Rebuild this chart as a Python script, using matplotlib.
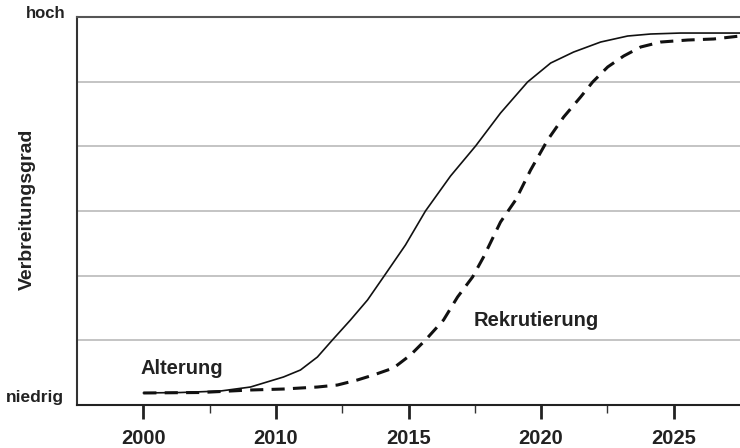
import matplotlib
matplotlib.use("Agg")
import matplotlib.pyplot as plt
from matplotlib.ticker import FixedLocator

plt.rcParams['font.family'] = ['Liberation Sans', 'DejaVu Sans']
plt.rcParams['font.weight'] = 'bold'

# x in Tick-Positionen (0 = 2000, 1 = 2010, 2 = 2015, ...), y in Rasterstufen 0..6
tick_pos = [0, 1, 2, 3, 4]
tick_labels = ["2000", "2010", "2015", "2020", "2025"]

alter_x = [0.0, 0.279, 0.581, 0.808, 1.057, 1.185, 1.313, 1.426, 1.562, 1.691, 1.811,
           1.977, 2.128, 2.317, 2.506, 2.694, 2.898, 3.072, 3.245, 3.449, 3.653, 3.826,
           4.053, 4.279, 4.5]
alter_y = [0.186, 0.193, 0.216, 0.278, 0.433, 0.541, 0.742, 1.005, 1.314, 1.624, 1.979,
           2.474, 3.000, 3.541, 4.005, 4.515, 4.995, 5.288, 5.458, 5.613, 5.706, 5.737,
           5.752, 5.752, 5.752]

rekr_x = [0.0, 0.430, 0.808, 1.057, 1.313, 1.464, 1.615, 1.736, 1.887, 2.015, 2.128,
          2.264, 2.370, 2.483, 2.566, 2.694, 2.808, 2.921, 3.049, 3.170, 3.298, 3.389,
          3.502, 3.623, 3.751, 3.902, 4.106, 4.302, 4.5]
rekr_y = [0.186, 0.193, 0.232, 0.247, 0.278, 0.309, 0.387, 0.464, 0.572, 0.773, 1.005,
          1.314, 1.670, 1.979, 2.289, 2.830, 3.170, 3.634, 4.098, 4.453, 4.763, 4.995,
          5.227, 5.397, 5.536, 5.613, 5.644, 5.660, 5.706]

fig = plt.figure(figsize=(7.4, 4.48), dpi=100)
ax = fig.add_axes([77 / 740, 43 / 448, 663 / 740, 388 / 448])

for g in [1, 2, 3, 4, 5]:
    ax.axhline(g, color='#b4b4b4', lw=1.1, zorder=0)

ax.plot(alter_x, alter_y, color='#111111', lw=1.2, zorder=3,
        solid_joinstyle='round', solid_capstyle='round')
ax.plot(rekr_x, rekr_y, color='#111111', lw=2.2, dashes=(4.3, 2.7), zorder=3,
        dash_joinstyle='round')

ax.set_xlim(-0.5, 4.5)
ax.set_ylim(0, 6)

ax.xaxis.set_major_locator(FixedLocator(tick_pos))
ax.set_xticklabels(tick_labels, fontsize=14.5, fontweight='bold', color='#222222')
ax.xaxis.set_minor_locator(FixedLocator([0.5, 1.5, 2.5, 3.5]))
ax.tick_params(axis='x', which='major', length=10, width=2, color='#222222', pad=7)
ax.tick_params(axis='x', which='minor', length=5.5, width=1, color='#333333')
ax.set_yticks([])

ax.spines['right'].set_visible(False)
ax.spines['top'].set_color('#555555')
ax.spines['top'].set_linewidth(1.5)
ax.spines['left'].set_color('#333333')
ax.spines['left'].set_linewidth(1.5)
ax.spines['bottom'].set_color('#222222')
ax.spines['bottom'].set_linewidth(1.5)

trans = ax.get_yaxis_transform()
ax.text(-0.018, 6.05, "hoch", transform=trans, ha='right', va='center',
        fontsize=12, fontweight='bold', color='#222222', clip_on=False)
ax.text(-0.02, 0.12, "niedrig", transform=trans, ha='right', va='center',
        fontsize=12.5, fontweight='bold', color='#222222', clip_on=False)

ax.text(-0.02, 0.57, "Alterung", fontsize=14.5, fontweight='bold', color='#222222',
        va='center', ha='left')
ax.text(2.49, 1.3, "Rekrutierung", fontsize=14.5, fontweight='bold', color='#222222',
        va='center', ha='left')

fig.text(27 / 740, 1 - 209 / 448, "Verbreitungsgrad", rotation=90, ha='center', va='center',
         fontsize=14, fontweight='bold', color='#222222')

fig.savefig("out.png", dpi=100)
